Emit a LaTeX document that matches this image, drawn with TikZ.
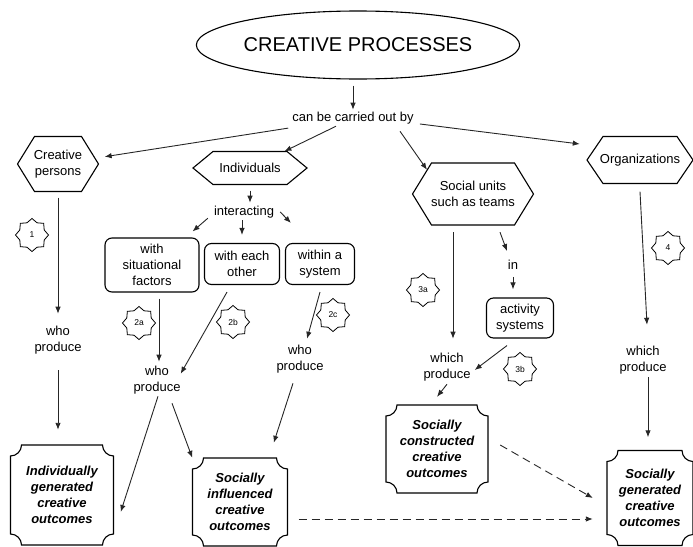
\documentclass[tikz,border=0pt]{standalone}
\usepackage{fontspec}
\setmainfont{Liberation Sans}
\usetikzlibrary{shapes.geometric,arrows.meta,calc}

\tikzset{
  edge line/.style={line width=0.9pt, draw=black!85},
  arr/.style={edge line, -{Latex[length=7pt,width=5.5pt]}},
  dasharr/.style={arr, dash pattern=on 8pt off 5pt},
  lbl/.style={font=\fontsize{13}{16}\selectfont, inner sep=2pt, align=center},
  rbox/.style={lbl, draw, line width=1.1pt, rounded corners=7pt},
  frame/.style={draw, line width=1.1pt},
  outtxt/.style={font=\fontsize{13}{16}\selectfont\bfseries\itshape, align=center, inner sep=0pt},
  tag/.style={draw, star, star points=8, star point ratio=1.25, minimum size=33pt,
              inner sep=0pt, line width=0.8pt, font=\fontsize{8.5}{9}\selectfont},
}

% radius of the concave corners of the outcome plaques
\def\plr{11}

% hexagon: name, x, y, width, height, point depth, text
\newcommand\hexbox[7]{%
  \node[lbl, minimum width=#4pt, minimum height=#5pt] (#1) at (#2,#3) {#7};
  \draw[frame] (#2-#4/2,#3) -- (#2-#4/2+#6,#3+#5/2) -- (#2+#4/2-#6,#3+#5/2)
     -- (#2+#4/2,#3) -- (#2+#4/2-#6,#3-#5/2) -- (#2-#4/2+#6,#3-#5/2) -- cycle;}

% plaque with concave corners: name, x, y, width, height, text
\newcommand\plaque[6]{%
  \node[outtxt, minimum width=#4pt, minimum height=#5pt] (#1) at (#2,#3) {#6};
  \draw[frame] (#2-#4/2+\plr,#3+#5/2) -- (#2+#4/2-\plr,#3+#5/2)
     arc[start angle=180,end angle=270,radius=\plr]
     -- (#2+#4/2,#3-#5/2+\plr) arc[start angle=90,end angle=180,radius=\plr]
     -- (#2-#4/2+\plr,#3-#5/2) arc[start angle=0,end angle=90,radius=\plr]
     -- (#2-#4/2,#3+#5/2-\plr) arc[start angle=270,end angle=360,radius=\plr]
     -- cycle;}

\begin{document}
\begin{tikzpicture}[x=1pt,y=1pt]
\useasboundingbox (0,0) rectangle (693,-546);

% top of the map
\node[ellipse, draw, line width=1.1pt, minimum width=280pt, minimum height=68pt,
      font=\fontsize{20}{24}\selectfont, inner sep=0pt] (title) at (358,-45) {CREATIVE PROCESSES};
\node[lbl] (cob) at (353,-118) {can be carried out by};

% agents
\hexbox{cp}{58}{-164}{81}{55}{17}{Creative\\persons}
\hexbox{ind}{250}{-168}{114}{33}{20}{Individuals}
\hexbox{soc}{473}{-194}{121}{62}{19}{Social units\\such as teams}
\hexbox{org}{640}{-160}{106}{47}{16}{Organizations}

% interaction branch
\node[lbl] (inter) at (244,-212) {interacting};
\node[rbox, minimum width=94pt, minimum height=54pt] (b1) at (152,-265) {with\\situational\\factors};
\node[rbox, minimum width=75pt, minimum height=41pt] (b2) at (242,-264) {with each\\other};
\node[rbox, minimum width=69pt, minimum height=41pt] (b3) at (320,-264) {within a\\system};

\node[lbl] (in) at (513,-265) {in};
\node[rbox, minimum width=67pt, minimum height=40pt] (act) at (520,-318) {activity\\systems};

% linking phrases
\node[lbl] (wp1) at (58,-340) {who\\produce};
\node[lbl] (wp2) at (157,-380) {who\\produce};
\node[lbl] (wp3) at (300,-359) {who\\produce};
\node[lbl] (wp4) at (447,-367) {which\\produce};
\node[lbl] (wp5) at (643,-360) {which\\produce};

% outcomes
\plaque{o1}{62}{-495}{103}{100}{Individually\\generated\\creative\\outcomes}
\plaque{o2}{240}{-502}{95}{88}{Socially\\influenced\\creative\\outcomes}
\plaque{o3}{437}{-449}{102}{88}{Socially\\constructed\\creative\\outcomes}
\plaque{o4}{650}{-498}{86}{95}{Socially\\generated\\creative\\outcomes}

% numbered markers
\node[tag] (s1) at (32,-235) {1};
\node[tag] (s2a) at (139,-323) {2a};
\node[tag] (s2b) at (233,-322) {2b};
\node[tag] (s2c) at (333,-315) {2c};
\node[tag] (s3a) at (423,-290) {3a};
\node[tag] (s3b) at (520,-369) {3b};
\node[tag] (s4) at (668,-248) {4};

% connectors
\draw[arr] ([yshift=-6pt]title.south -| cob.north) -- (cob.north);
\draw[arr, shorten <=12pt, shorten >=6pt] (cob) -- (cp);
\draw[arr] (cob) -- (ind);
\draw[arr] ([xshift=47pt,yshift=-5pt]cob.south) -- ([xshift=-46pt,yshift=-7pt]soc.north);
\draw[arr] ([xshift=4pt,yshift=-6pt]cob.east) -- ([xshift=-7pt,yshift=16pt]org.west);

\draw[arr] ([yshift=-6pt]ind.south) -- ([yshift=1pt]ind.south |- inter.north);
\draw[arr] ([xshift=-4pt,yshift=2pt]inter.south west) -- ([xshift=-7pt,yshift=6pt]b1.north east);
\draw[arr] (b2.north |- inter.south) -- ([yshift=8pt]b2.north);
\draw[arr] ([xshift=4pt]inter.east) -- ([xshift=6pt,yshift=20pt]b3.north west);

\draw[arr] ([yshift=-6pt]cp.south) -- ([yshift=10pt]wp1.north);
\draw[arr] ([xshift=7pt,yshift=-6pt]b1.south) -- ([xshift=2pt,yshift=2pt]wp2.north);
\draw[arr] ([xshift=-15pt,yshift=-7pt]b2.south) -- ([xshift=-2pt,yshift=-10pt]wp2.north east);
\draw[arr] ([yshift=-7pt]b3.south) -- ([xshift=7pt,yshift=4pt]wp3.north);

\draw[arr] ([yshift=-14pt]wp1.south) -- ([yshift=15pt]wp1.south |- o1.north);
\draw[arr] ([xshift=1pt]wp2.south) -- ([xshift=7pt,yshift=-17pt]o1.east);
\draw[arr] ([xshift=15pt,yshift=-7pt]wp2.south) -- (o2.north west);
\draw[arr] ([xshift=-7pt,yshift=-8pt]wp3.south) -- ([xshift=-14pt,yshift=15pt]o2.north east);

\draw[arr] ([xshift=-20pt,yshift=-7pt]soc.south) -- ([xshift=6pt,yshift=12pt]wp4.north);
\draw[arr] ([xshift=27pt,yshift=-7pt]soc.south) -- ([xshift=-6pt,yshift=7pt]in.north);
\draw[arr] ([yshift=-5pt]in.south) -- ([xshift=-7pt,yshift=8pt]act.north);
\draw[arr] ([xshift=-13pt,yshift=-7pt]act.south) -- ([xshift=2pt,yshift=-3pt]wp4.east);
\draw[arr] ([yshift=-1pt]wp4.south) -- ([yshift=8pt]o3.north);

\draw[arr] ([yshift=-8pt]org.south) -- ([xshift=4pt,yshift=19pt]wp5.north);
\draw[arr] ([xshift=5pt,yshift=-1pt]wp5.south) -- ([xshift=-2pt,yshift=13pt]o4.north);

\draw[dasharr] ([xshift=11pt,yshift=-17pt]o2.east) -- ([xshift=-14pt,yshift=-21pt]o4.west);
\draw[dasharr] ([xshift=12pt,yshift=4pt]o3.east) -- ([xshift=-14pt]o4.west);
\end{tikzpicture}
\end{document}
